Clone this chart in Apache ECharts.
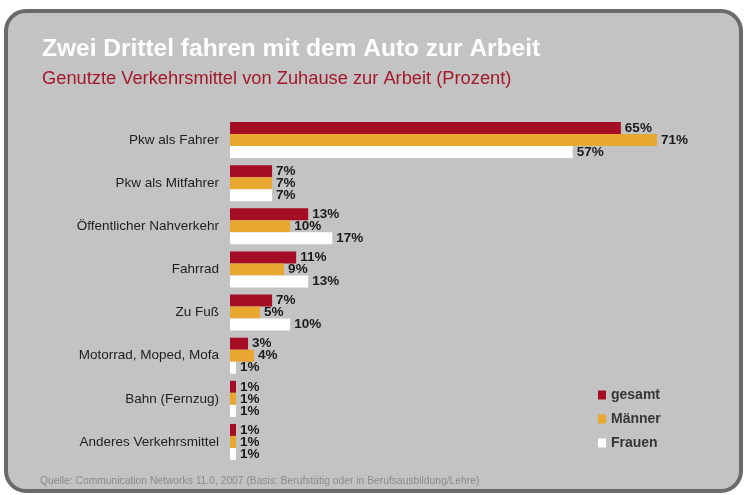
<!DOCTYPE html>
<html>
<head>
<meta charset="utf-8">
<script src="https://cdn.jsdelivr.net/npm/echarts@6/dist/echarts.min.js"></script>
<style>
html,body{margin:0;padding:0;background:#fff;}
#chart{width:747px;height:495px;}
</style>
</head>
<body>
<div id="chart"></div>
<script>
const categories = ["Pkw als Fahrer","Pkw als Mitfahrer","Öffentlicher Nahverkehr","Fahrrad","Zu Fuß","Motorrad, Moped, Mofa","Bahn (Fernzug)","Anderes Verkehrsmittel"];
const seriesNames = ["gesamt","Männer","Frauen"];
const gesamt = [65,7,13,11,7,3,1,1];
const maenner = [71,7,10,9,5,4,1,1];
const frauen = [57,7,17,13,10,1,1,1];

const colors = ["#a50d24","#e8a731","#ffffff"];
const FONT = "Liberation Sans, Arial, Helvetica, sans-serif";

const chart = echarts.init(document.getElementById('chart'), null, {renderer:'canvas'});

function barSeries(name, data, color){
  return {
    name: name, type: 'bar', data: data,
    barWidth: 12, barGap: '0%',
    itemStyle: {color: color},
    label: {show: true, position: 'right', distance: 4, formatter: '{c}%',
      color: '#1a1a1a', fontFamily: FONT, fontWeight: 'bold', fontSize: 13.5},
    animation: false
  };
}

chart.setOption({
  animation: false,
  backgroundColor: '#ffffff',
  graphic: [
    {type:'rect', z:-10, silent:true,
     shape:{x:6, y:11, width:735, height:480, r:20},
     style:{fill:'#c3c3c3', stroke:'#6a6a6a', lineWidth:4}},
    {type:'text', left:40, top:476, silent:true,
     style:{text:'Quelle: Communication Networks 11.0, 2007 (Basis: Berufstätig oder in Berufsausbildung/Lehre)',
       fill:'#8a8a8a', font:'10.3px ' + FONT}}
  ],
  title: [
    {text:'Zwei Drittel fahren mit dem Auto zur Arbeit', left:37, top:32,
     textStyle:{color:'#ffffff', fontFamily:FONT, fontWeight:'bold', fontSize:24.5}},
    {text:'Genutzte Verkehrsmittel von Zuhause zur Arbeit (Prozent)', left:37, top:65,
     textStyle:{color:'#a3182b', fontFamily:FONT, fontWeight:'normal', fontSize:18.3}}
  ],
  legend: {
    orient:'vertical', left:593, top:383,
    icon:'rect', itemWidth:8, itemHeight:9, itemGap:10,
    data: seriesNames,
    textStyle:{color:'#363636', fontFamily:FONT, fontWeight:'bold', fontSize:14, lineHeight:14}
  },
  grid: {left:230, right:66, top:118.5, height:345, containLabel:false},
  xAxis: {type:'value', min:0, max:75, show:false},
  yAxis: {type:'category', data:categories, inverse:true,
    axisLine:{show:false}, axisTick:{show:false}, splitLine:{show:false},
    axisLabel:{margin:11, color:'#1e1e1e', fontFamily:FONT, fontSize:13.5}},
  series: [
    barSeries(seriesNames[0], gesamt, colors[0]),
    barSeries(seriesNames[1], maenner, colors[1]),
    barSeries(seriesNames[2], frauen, colors[2])
  ]
});
</script>
</body>
</html>
